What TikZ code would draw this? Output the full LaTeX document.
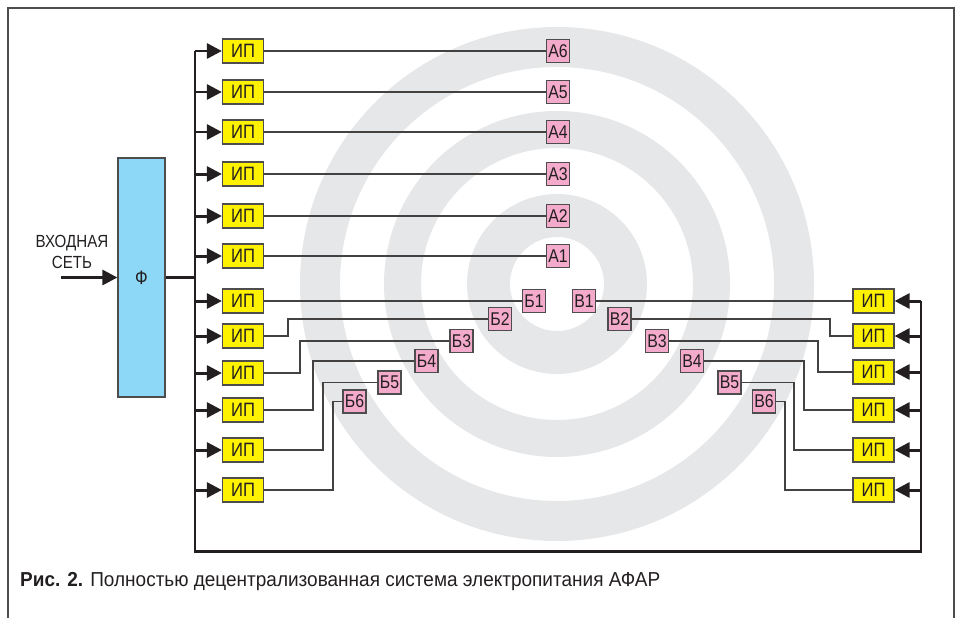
\documentclass[tikz,border=0pt]{standalone}
\usepackage{fontspec}
\setmainfont{Liberation Sans}[FakeStretch=0.86]
\newfontfamily\capfont{Liberation Sans}[FakeStretch=0.94]
\usepackage{tikz}
\usetikzlibrary{arrows.meta}
\definecolor{ipyellow}{HTML}{FFF200}
\definecolor{elpink}{HTML}{F4AACB}
\definecolor{fblue}{HTML}{8DD8F6}
\definecolor{ringgray}{HTML}{E6E7E8}
\definecolor{ink}{HTML}{231F20}
\tikzstyle{ip} = [draw=ink!80, fill=ipyellow, line width=0.7pt,
    minimum width=8.2mm, minimum height=4.8mm, inner sep=0pt,
    text=ink, font=\fontsize{11}{11}\selectfont]
\tikzstyle{elem} = [draw=ink!80, fill=elpink, line width=0.7pt,
    minimum size=4.6mm, inner sep=0pt,
    text=ink, font=\fontsize{10.5}{10.5}\selectfont]
\tikzstyle{bus} = [draw=ink, line width=1.7pt]
\tikzstyle{wire} = [draw=ink!85, line width=0.6pt]
\tikzset{>={Triangle[length=3mm,width=3mm]}}

\begin{document}
\begin{tikzpicture}[x=0.2mm,y=-0.2mm]
\useasboundingbox (0,0) rectangle (959,618);
    % rings
    \fill[ringgray, even odd rule] (557,284) circle [radius=257] circle [radius=217]
        circle [radius=173] circle [radius=136] circle [radius=90] circle [radius=47];
    \draw[draw=ink!80, line width=0.9pt] (8,618) -- (8,8) -- (954,8) -- (954,618); %frame
    %filter
    \node[draw=ink!80, fill=fblue, line width=0.7pt, minimum width=9.4mm,
          minimum height=47.8mm, inner sep=0pt, text=ink,
          font=\fontsize{11}{11}\selectfont] (f) at (141.5,277.5) {Ф};
    \node[align=center, text=ink, font=\fontsize{10}{11.5}\selectfont]
          (net) at (72,252) {ВХОДНАЯ\\СЕТЬ};
    \coordinate (in) at (61,277.5);
    \draw[bus,->] (in) -- (f.west);
    %supply bus
    \coordinate (bl-top) at (195,51);
    \coordinate (bl-bot) at (195,551);
    \coordinate (br-bot) at (921,551);
    \coordinate (br-top) at (921,301);
    \draw[bus] (f.east) -- (f.east -| bl-top);
    \draw[bus] (bl-top) -- (bl-bot) -- (br-bot) -- (br-top);
    %left power supplies
    \foreach [count=\r] \y in {51,92,132,174,216,256,301,336,373,410,450,490}
    {\node[ip] (ipl\r) at (243,\y) {ИП};
    \draw[bus,->] (bl-top |- ipl\r.west) -- (ipl\r.west);}
    %right power supplies
    \foreach [count=\k] \y in {301,336,372,410,450,490}
    {\node[ip] (ipr\k) at (873.5,\y) {ИП};
    \draw[bus,->] (br-top |- ipr\k.east) -- (ipr\k.east);}
    %column A
    \foreach [evaluate={\r=int(7-\k);}] \k/\y in {1/256,2/216,3/174,4/132,5/92,6/51}
    {\node[elem] (a\k) at (558,\y) {А\k};
    \draw[wire] (ipl\r.east) -- (a\k.west);}
    %left arc B
    \foreach [evaluate={\r=int(6+\k);}] \k/\x/\y/\jx in
        {1/534/301/400, 2/500/319/288, 3/461.5/341/300,
         4/426.5/361/313, 5/389.5/382.5/323, 6/354.5/401.5/333}
    {\node[elem] (b\k) at (\x,\y) {Б\k};
    \draw[wire] (b\k.west) -| (\jx,0 |- ipl\r.east) -- (ipl\r.east);}
    %right arc V
    \foreach \k/\x/\y/\jx in
        {1/584/301/700, 2/619.5/319/830, 3/657/341/818,
         4/692/361/804, 5/729.5/382.5/794, 6/764/401.5/785}
    {\node[elem] (v\k) at (\x,\y) {В\k};
    \draw[wire] (v\k.east) -| (\jx,0 |- ipr\k.west) -- (ipr\k.west);}
    %caption
    \node[anchor=west, text=ink, font=\capfont\fontsize{11.5}{11.5}\selectfont]
          (cap) at (14,582) {\textbf{Рис. 2.} Полностью децентрализованная система электропитания АФАР};
\end{tikzpicture}
\end{document}
